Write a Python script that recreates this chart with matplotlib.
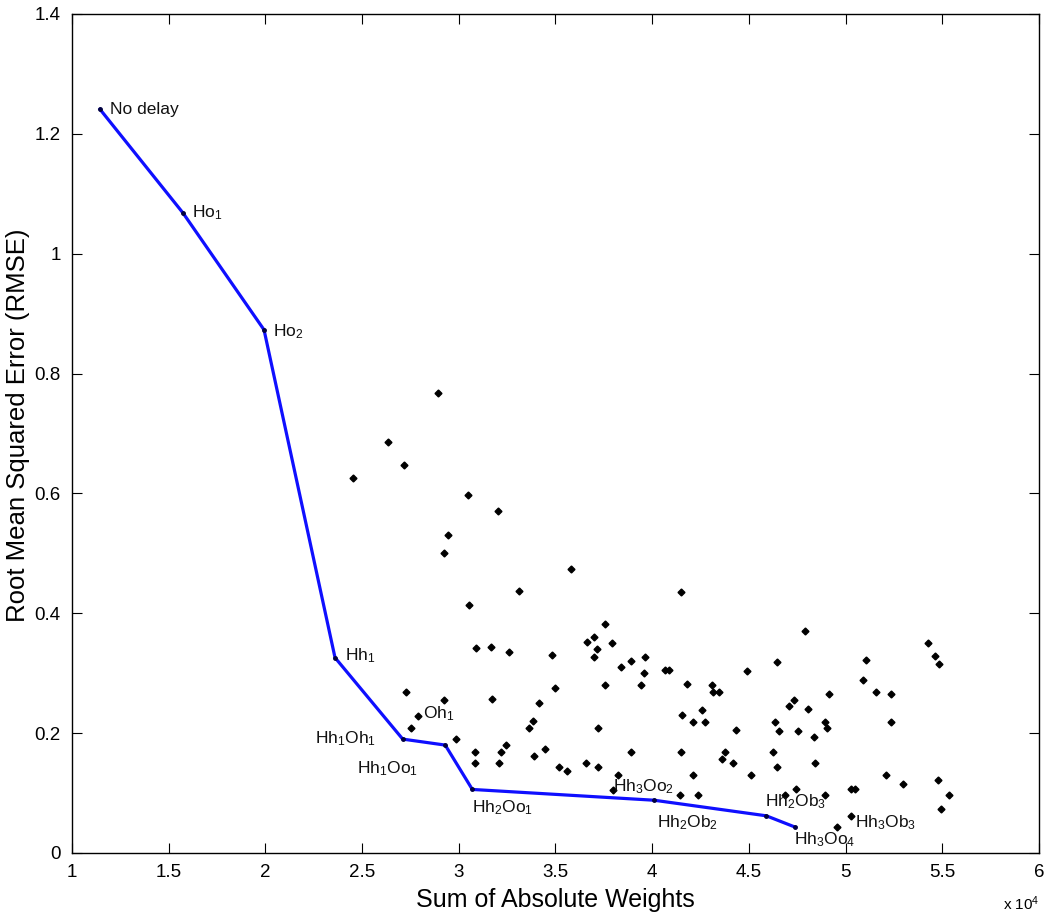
import matplotlib
matplotlib.use("Agg")
import matplotlib.pyplot as plt

plt.rcParams['font.family'] = ['Liberation Sans', 'DejaVu Sans']
plt.rcParams['mathtext.default'] = 'regular'

# Pareto front (x in units of 1e4)
front_x = [1.145, 1.574, 1.993, 2.360, 2.710, 2.930, 3.070, 4.010, 4.590, 4.740]
front_y = [1.241, 1.068, 0.873, 0.326, 0.190, 0.180, 0.106, 0.088, 0.062, 0.043]

# Other candidate networks (x in units of 1e4)
cand_x = [2.894, 2.636, 2.718, 2.453, 3.048, 3.201, 2.943, 2.922, 3.054, 3.580, 3.310, 4.150,
          3.168, 3.260, 3.482, 3.756, 3.664, 3.701, 3.715, 3.699, 3.790, 3.840, 3.888, 3.964,
          3.956, 3.944, 4.068, 4.085, 4.181, 4.309, 4.316, 4.345, 4.490, 3.756, 3.173, 3.497,
          3.413, 3.384, 3.363, 3.720, 4.152, 4.259, 4.209, 4.273, 4.433, 3.244, 3.218, 3.210,
          3.447, 3.390, 3.888, 4.147, 4.378, 4.363, 4.420, 3.518, 3.560, 3.658, 3.721, 3.823,
          4.209, 4.511, 3.796, 4.145, 4.238, 3.089, 2.725, 2.922, 2.791, 2.754, 2.986, 3.084,
          3.084, 4.792, 4.645, 5.428, 5.464, 5.485, 5.105, 5.091, 5.155, 5.233, 4.916, 4.733,
          4.706, 4.806, 4.637, 4.656, 4.755, 4.835, 4.893, 4.902, 5.233, 4.623, 4.643, 4.842,
          5.210, 5.295, 5.476, 5.533, 5.492, 4.742, 4.685, 4.895, 5.030, 5.046, 5.028, 4.957]
cand_y = [0.767, 0.686, 0.648, 0.625, 0.598, 0.571, 0.531, 0.501, 0.413, 0.474, 0.437, 0.436,
          0.343, 0.336, 0.330, 0.382, 0.352, 0.361, 0.340, 0.327, 0.350, 0.311, 0.320, 0.327,
          0.300, 0.280, 0.305, 0.305, 0.282, 0.280, 0.269, 0.269, 0.303, 0.280, 0.257, 0.275,
          0.250, 0.221, 0.209, 0.209, 0.230, 0.239, 0.218, 0.218, 0.205, 0.180, 0.168, 0.150,
          0.173, 0.162, 0.168, 0.168, 0.168, 0.157, 0.150, 0.144, 0.137, 0.150, 0.144, 0.130,
          0.130, 0.130, 0.105, 0.097, 0.097, 0.342, 0.268, 0.255, 0.229, 0.209, 0.190, 0.169,
          0.150, 0.370, 0.318, 0.350, 0.329, 0.315, 0.322, 0.289, 0.269, 0.266, 0.266, 0.255,
          0.246, 0.240, 0.218, 0.204, 0.204, 0.194, 0.218, 0.209, 0.218, 0.169, 0.144, 0.150,
          0.130, 0.115, 0.122, 0.096, 0.074, 0.106, 0.096, 0.096, 0.106, 0.106, 0.061, 0.043]

# Annotations: label, x, y (x in units of 1e4)
label_text = ['No delay', 'Ho$_1$', 'Ho$_2$', 'Hh$_1$', 'Oh$_1$', 'Hh$_1$Oh$_1$', 'Hh$_1$Oo$_1$',
              'Hh$_2$Oo$_1$', 'Hh$_3$Oo$_2$', 'Hh$_2$Ob$_2$', 'Hh$_2$Ob$_3$', 'Hh$_3$Oo$_4$', 'Hh$_3$Ob$_3$']
label_x = [1.195, 1.620, 2.040, 2.410, 2.815, 2.255, 2.475, 3.070, 3.795, 4.025, 4.585, 4.735, 5.050]
label_y = [1.241, 1.068, 0.870, 0.330, 0.233, 0.190, 0.140, 0.075, 0.110, 0.050, 0.085, 0.023, 0.050]

fig = plt.figure(figsize=(10.49, 9.15), dpi=100)
ax = fig.add_axes([0.0686, 0.0678, 0.9219, 0.9169])

ax.plot(cand_x, cand_y, linestyle='none', marker='D', markersize=3.5,
        color='black', zorder=3)
ax.plot(front_x, front_y, color='#0f0fff', linewidth=2.3, marker='.',
        markersize=5, markeredgecolor='#000040', markerfacecolor='#000040', zorder=2)

for t, x, y in zip(label_text, label_x, label_y):
    ax.text(x, y, t, fontsize=12.5, ha='left', va='center', color='#111111', zorder=4)

ax.set_xlim(1, 6)
ax.set_ylim(0, 1.4)
ax.set_xticks([1, 1.5, 2, 2.5, 3, 3.5, 4, 4.5, 5, 5.5, 6])
ax.set_xticklabels(['1', '1.5', '2', '2.5', '3', '3.5', '4', '4.5', '5', '5.5', '6'])
ax.set_yticks([0, 0.2, 0.4, 0.6, 0.8, 1, 1.2, 1.4])
ax.set_yticklabels(['0', '0.2', '0.4', '0.6', '0.8', '1', '1.2', '1.4'])
ax.tick_params(direction='in', top=True, right=True, length=7, labelsize=13.5, pad=8)
for s in ax.spines.values():
    s.set_linewidth(1.0)

ax.set_xlabel('Sum of Absolute Weights', fontsize=18, labelpad=5)
ax.set_ylabel('Root Mean Squared Error (RMSE)', fontsize=18.5)
ax.yaxis.set_label_coords(-0.043, 0.51)
ax.text(0.963, -0.06, 'x 10$^4$', transform=ax.transAxes, fontsize=11, ha='left', va='center')

fig.savefig('out.png', dpi=100)
